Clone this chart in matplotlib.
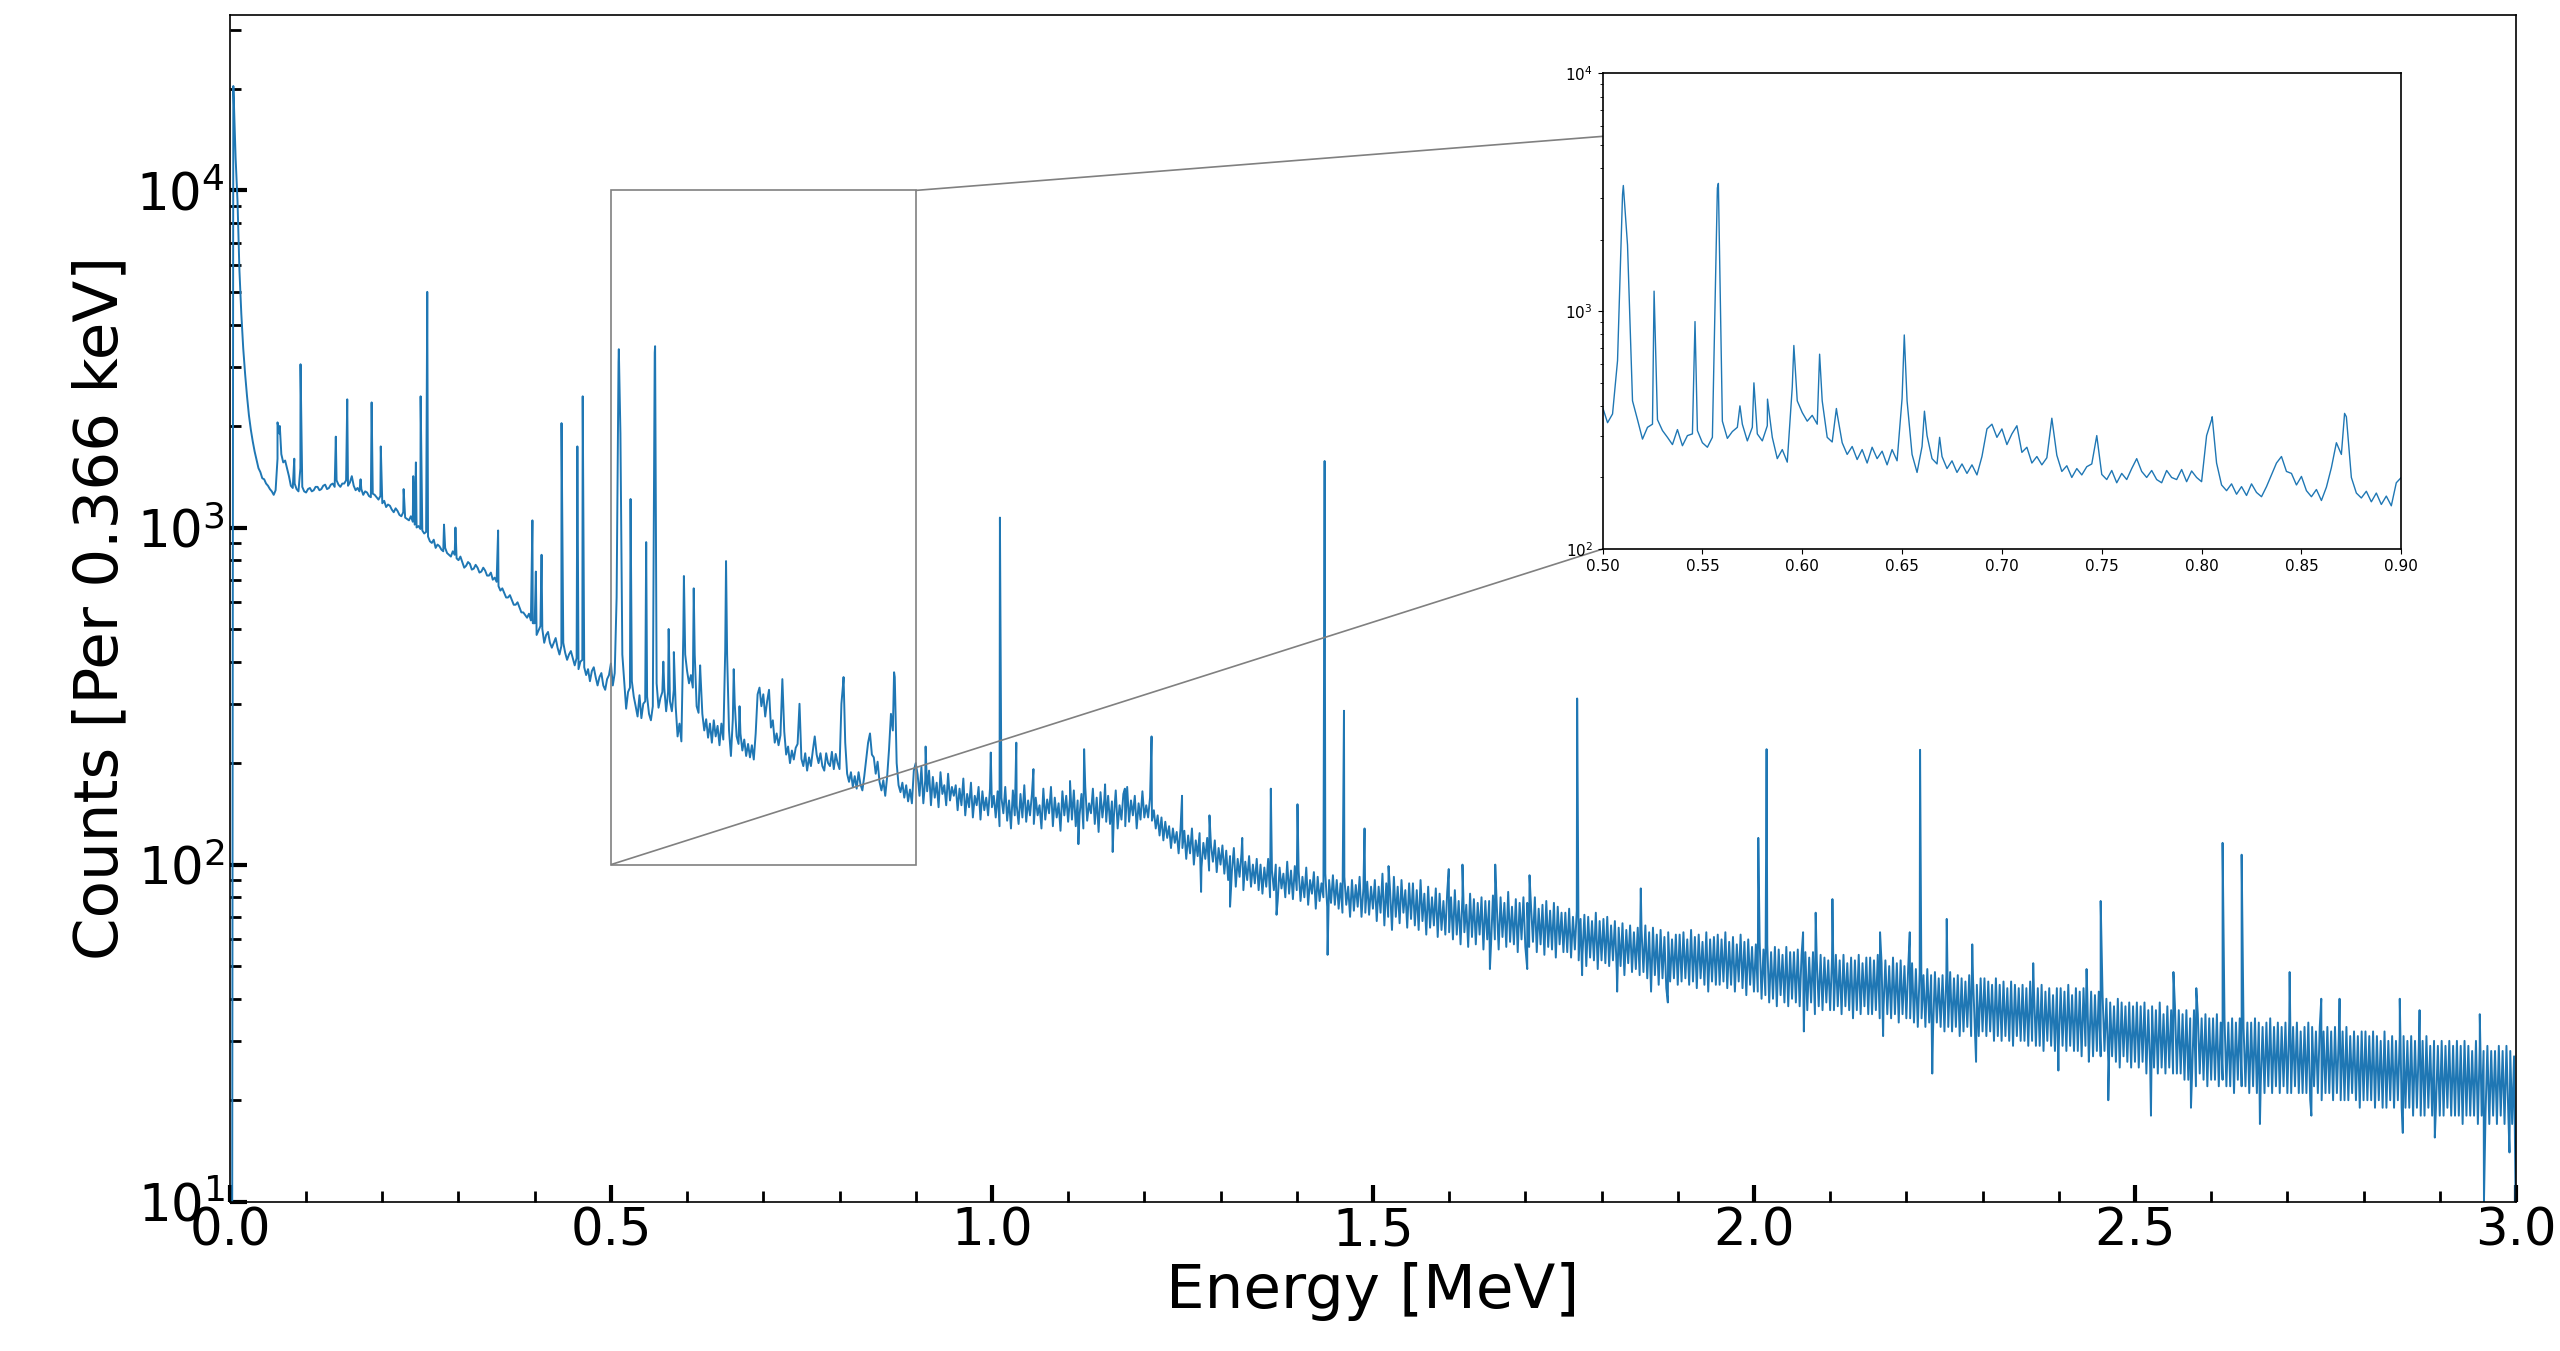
import numpy as np
import matplotlib
matplotlib.use("Agg")
import matplotlib.pyplot as plt
from matplotlib.ticker import MultipleLocator, FixedLocator, FixedFormatter
from matplotlib.transforms import Bbox, TransformedBbox
from mpl_toolkits.axes_grid1.inset_locator import BboxPatch, BboxConnector

# ---------------- data ----------------
# counts on a 0.0025 MeV grid, 0.0050 .. 0.4975 MeV
low_counts = [
    19000, 12500, 9300, 5800, 4300, 3400, 2850, 2450, 2150, 1950,
    1800, 1680, 1590, 1500, 1460, 1400, 1390, 1350,
    1330, 1300, 1280, 1250, 1290, 1600, 1900, 1650, 1560, 1580,
    1500, 1420, 1330, 1310, 1350, 1300, 1280, 1500, 1320, 1280,
    1270, 1300, 1310, 1280, 1290, 1320, 1320, 1290, 1300, 1330,
    1340, 1300, 1310, 1340, 1350, 1320, 1380, 1340, 1320, 1350,
    1350, 1380, 1330, 1360, 1420, 1330, 1290, 1310, 1280, 1300,
    1250, 1280, 1270, 1240, 1230, 1260, 1250, 1230, 1210, 1240,
    1180, 1200, 1150, 1170, 1160, 1130, 1110, 1140, 1120, 1090,
    1080, 1110, 1070, 1060, 1050, 1080, 1040, 1020, 1000, 1010,
    990, 980, 960, 970, 940, 910, 900, 920, 870, 890,
    880, 860, 850, 870, 840, 830, 820, 850, 830, 810,
    800, 820, 790, 760, 770, 790, 780, 750, 755, 775,
    760, 735, 740, 760, 745, 720, 720, 735, 700, 710,
    690, 670, 650, 660, 640, 620, 620, 630, 610, 590,
    590, 600, 580, 560, 560, 550, 540, 555, 530, 520,
    520, 480, 495, 510, 500, 455, 480, 490, 455, 440,
    455, 470, 440, 420, 445, 455, 425, 405, 420, 430,
    410, 390, 410, 380, 400, 405, 385, 365, 380, 350,
    375, 385, 360, 340, 360, 370, 340, 330, 355, 365,
]

# counts on a 0.0025 MeV grid, 0.5000 .. 0.9000 MeV
mid_counts = [
    395, 340, 370, 620, 3100, 1900, 420, 350, 290, 325,
    335, 350, 315, 295, 275, 318, 272, 300, 305, 315,
    280, 268, 295, 3300, 345, 292, 312, 325, 335, 285,
    325, 305, 285, 330, 295, 240, 262, 232, 480, 420,
    375, 345, 365, 335, 420, 295, 282, 370, 280, 250,
    270, 238, 262, 230, 268, 240, 258, 226, 262, 235,
    430, 420, 250, 210, 270, 300, 240, 228, 245, 218,
    235, 210, 228, 208, 226, 205, 245, 320, 335, 295,
    320, 275, 305, 330, 255, 268, 230, 245, 226, 242,
    355, 248, 212, 224, 200, 218, 205, 222, 228, 300,
    206, 196, 214, 190, 208, 196, 218, 240, 212, 200,
    214, 196, 190, 214, 200, 196, 216, 192, 213, 200,
    192, 300, 350, 230, 186, 176, 188, 170, 183, 168,
    188, 173, 166, 183, 205, 230, 245, 212, 208, 186,
    202, 176, 166, 178, 160, 182, 220, 280, 250, 360,
    200, 172, 164, 175, 158, 172, 154, 167, 152, 190,
    200,
]

# counts on a 0.0025 MeV grid, 0.9025 .. 3.0000 MeV (band top / bottom)
high_counts = [
    185, 160, 195, 152, 178, 165, 190, 150, 182, 158, 175, 148, 188, 162, 172, 150, 186, 155, 170, 160,
    172, 145, 168, 150, 180, 140, 162, 148, 175, 138, 160, 150, 170, 136, 165, 145, 158, 140, 168, 148,
    160, 138, 165, 130, 158, 142, 170, 135, 155, 128, 166, 140, 150, 132, 162, 138, 172, 134, 155, 140,
    162, 132, 158, 140, 150, 128, 168, 136, 156, 142, 170, 130, 158, 138, 152, 126, 165, 140, 160, 134,
    158, 136, 166, 130, 155, 140, 162, 128, 170, 135, 152, 142, 168, 132, 158, 125, 164, 138, 156, 134,
    160, 132, 154, 138, 166, 128, 150, 136, 162, 130, 170, 134, 155, 140, 160, 128, 152, 136, 165, 138,
    150, 138, 158, 135, 145, 128, 140, 122, 138, 118, 134, 120, 130, 112, 128, 116, 125, 108, 128, 112,
    126, 104, 122, 108, 128, 100, 118, 106, 124, 98, 116, 104, 120, 96, 114, 102, 118, 95, 112, 100,
    114, 94, 110, 90, 106, 96, 112, 86, 104, 92, 108, 84, 102, 90, 106, 86, 100, 88, 104, 84,
    100, 82, 98, 86, 104, 80, 96, 84, 100, 78, 98, 85, 94, 80, 102, 82, 96, 79, 99, 84,
    96, 78, 92, 80, 98, 76, 90, 82, 95, 74, 92, 78, 88, 80, 94, 75, 90, 77, 93, 76,
    90, 74, 88, 72, 92, 76, 86, 70, 90, 73, 87, 75, 92, 70, 85, 72, 89, 71, 86, 74,
    90, 68, 86, 72, 94, 66, 88, 70, 84, 64, 92, 70, 86, 67, 90, 72, 84, 65, 88, 69,
    88, 66, 84, 64, 90, 68, 82, 62, 86, 65, 80, 66, 85, 61, 82, 64, 78, 62, 83, 63,
    80, 60, 84, 62, 78, 58, 81, 63, 76, 57, 82, 61, 79, 58, 77, 62, 80, 56, 78, 60,
    78, 58, 81, 60, 76, 56, 80, 61, 77, 57, 83, 59, 75, 58, 79, 55, 77, 60, 80, 57,
    77, 57, 75, 59, 80, 55, 74, 58, 76, 54, 78, 57, 73, 56, 77, 53, 75, 58, 72, 55,
    72, 55, 74, 53, 70, 56, 73, 52, 69, 54, 71, 50, 70, 53, 68, 52, 72, 49, 68, 52,
    69, 51, 70, 50, 66, 52, 68, 48, 65, 50, 67, 47, 64, 51, 66, 48, 63, 49, 65, 47,
    64, 48, 66, 46, 63, 42, 65, 47, 62, 44, 64, 46, 61, 43, 63, 45, 60, 46, 62, 44,
    62, 45, 63, 46, 60, 44, 64, 45, 61, 43, 62, 46, 59, 44, 63, 42, 60, 45, 61, 44,
    62, 44, 60, 45, 63, 43, 59, 44, 61, 42, 58, 45, 62, 43, 59, 41, 60, 44, 57, 42,
    58, 42, 59, 40, 56, 41, 58, 39, 55, 40, 57, 38, 56, 41, 54, 39, 57, 38, 55, 40,
    55, 39, 56, 38, 54, 40, 55, 37, 53, 39, 55, 36, 52, 38, 54, 37, 53, 39, 52, 37,
    53, 37, 54, 38, 52, 36, 54, 38, 51, 37, 53, 35, 52, 37, 54, 36, 51, 38, 53, 36,
    53, 36, 52, 37, 54, 35, 51, 37, 52, 36, 50, 35, 53, 36, 51, 34, 52, 36, 50, 35,
    50, 35, 51, 34, 49, 33, 48, 35, 47, 33, 49, 34, 47, 32, 48, 34, 46, 33, 47, 32,
    47, 33, 48, 32, 46, 33, 47, 31, 46, 32, 45, 33, 47, 31, 46, 32, 44, 31, 46, 32,
    46, 31, 45, 32, 44, 30, 46, 31, 44, 30, 45, 31, 43, 30, 45, 29, 44, 31, 43, 30,
    44, 30, 43, 29, 45, 30, 42, 29, 43, 29, 44, 28, 42, 30, 43, 29, 41, 28, 43, 29,
    43, 29, 42, 28, 44, 29, 41, 28, 43, 28, 42, 27, 43, 29, 41, 28, 42, 27, 41, 28,
    42, 27, 41, 28, 40, 26, 39, 27, 38, 26, 40, 25, 39, 27, 38, 26, 39, 25, 38, 26,
    39, 25, 38, 26, 39, 24, 37, 25, 38, 25, 37, 24, 39, 25, 36, 24, 38, 25, 37, 24,
    38, 24, 37, 24, 36, 23, 37, 23, 35, 24, 37, 22, 36, 24, 35, 23, 36, 22, 35, 23,
    35, 23, 36, 22, 34, 23, 35, 22, 34, 22, 35, 21, 34, 23, 35, 22, 33, 22, 34, 21,
    34, 22, 35, 21, 34, 22, 33, 21, 34, 22, 35, 21, 33, 22, 34, 21, 33, 22, 34, 21,
    34, 21, 33, 22, 34, 21, 32, 21, 33, 21, 34, 20, 33, 22, 32, 21, 33, 20, 32, 21,
    33, 21, 32, 20, 33, 21, 31, 20, 32, 20, 33, 20, 31, 21, 32, 20, 31, 19, 32, 20,
    32, 20, 31, 20, 32, 19, 31, 20, 30, 19, 32, 19, 30, 20, 31, 19, 30, 20, 31, 19,
    31, 19, 30, 19, 31, 18, 30, 19, 29, 18, 30, 18, 31, 19, 29, 18, 30, 19, 29, 18,
    30, 18, 29, 19, 30, 18, 29, 18, 30, 18, 29, 17, 30, 18, 29, 18, 28, 18, 30, 17,
    29, 18, 28, 18, 29, 17, 28, 18, 28, 17, 29, 18, 28, 17, 29, 18, 28, 17, 27, 8,
]

# peak tops, single-channel spikes / dips and the first channels (MeV, counts)
feature_energy = [
    0.0, 0.003, 0.0045,
    0.0625, 0.0655, 0.0845, 0.0927, 0.139, 0.154, 0.1715, 0.186, 0.198,
    0.228, 0.2406, 0.2441, 0.2503, 0.259, 0.281, 0.296, 0.352, 0.397,
    0.4015, 0.409, 0.4352, 0.456, 0.463,
    0.5104, 0.5258, 0.5463, 0.558, 0.5688, 0.5758, 0.5826, 0.5958, 0.6087,
    0.6171, 0.6511, 0.6612, 0.6688, 0.8053, 0.8716, 0.913,
    0.9985, 1.0105, 1.032, 1.0545, 1.1025, 1.1135, 1.1485, 1.1585, 1.1745,
    1.121, 1.2095, 1.2495, 1.2745, 1.2855, 1.3125, 1.3285, 1.366, 1.3735,
    1.401, 1.4366, 1.4405, 1.462, 1.489,
    1.5205, 1.5995, 1.6175, 1.6535, 1.6605, 1.7025, 1.7055, 1.768, 1.7745,
    1.8205, 1.8515, 1.887,
    2.0057, 2.0166, 2.0645, 2.0655, 2.081, 2.103, 2.1655, 2.1695, 2.2045,
    2.218, 2.234, 2.253, 2.2865, 2.2915, 2.3665, 2.3995, 2.4365, 2.4395,
    2.455, 2.465, 2.521, 2.5505, 2.5735, 2.5805, 2.615, 2.64, 2.664, 2.703,
    2.7315, 2.7445, 2.7685, 2.8475, 2.8515, 2.8735, 2.8935, 2.9525, 2.958,
    2.9915,
]
feature_counts = [
    2, 8, 20400,
    2050, 2000, 1600, 3050, 1860, 2400, 1390, 2350, 1740,
    1300, 1420, 1560, 2450, 5000, 1020, 1000, 980, 1050,
    740, 830, 2040, 1740, 2450,
    3380, 1215, 905, 3450, 400, 500, 427, 718, 660,
    390, 795, 380, 295, 360, 372, 224,
    215, 1070, 230, 192, 177, 115, 173, 109, 168,
    220, 240, 160, 83, 140, 75, 120, 168, 71,
    151, 1575, 54, 286, 128,
    99, 97, 100, 49, 100, 49, 93, 311, 47,
    42, 85, 39,
    120, 220, 63, 32, 72, 79, 63, 31, 63,
    219, 24, 69, 58, 26, 51, 24.5, 49, 26,
    78, 20, 18, 48, 19, 43, 116, 107, 17, 48,
    18, 40, 40, 40, 16, 37, 15.5, 36, 10,
    14,
]

inset_xticks = [0.50, 0.55, 0.60, 0.65, 0.70, 0.75, 0.80, 0.85, 0.90]
inset_xticklabels = ["0.50", "0.55", "0.60", "0.65", "0.70", "0.75", "0.80", "0.85", "0.90"]

# ---------------- assemble spectrum ----------------
e_low = 0.005 + 0.0025 * np.arange(len(low_counts))
e_mid = 0.5 + 0.0025 * np.arange(len(mid_counts))
e_high = 0.9025 + 0.0025 * np.arange(len(high_counts))

energy = np.concatenate([e_low, e_mid, e_high, np.array(feature_energy)])
counts = np.concatenate([low_counts, mid_counts, high_counts, feature_counts]).astype(float)
order = np.argsort(energy, kind="stable")
energy = energy[order]
counts = counts[order]

# ---------------- figure ----------------
fig = plt.figure(figsize=(25.6, 13.51), dpi=100)
ax = fig.add_axes([0.0898, 0.1105, 0.893, 0.8786])
ax.plot(energy, counts, color="#1f77b4", lw=1.4)
ax.set_yscale("log")
ax.set_xlim(0, 3.0)
ax.set_ylim(10, 33200)
ax.xaxis.set_major_locator(MultipleLocator(0.5))
ax.xaxis.set_minor_locator(MultipleLocator(0.1))
ax.tick_params(which="major", direction="in", length=12, width=3,
               labelsize=37, top=False, right=False)
ax.tick_params(which="minor", direction="in", length=7.7, width=2,
               top=False, right=False)
for s in ax.spines.values():
    s.set_linewidth(1.2)
ax.set_xlabel("Energy [MeV]", fontsize=44)
ax.set_ylabel("Counts [Per 0.366 keV]", fontsize=44)

# inset
axins = fig.add_axes([0.626, 0.5936, 0.312, 0.352])
axins.plot(energy, counts, color="#1f77b4", lw=1.0)
axins.set_yscale("log")
axins.set_xlim(inset_xticks[0], inset_xticks[-1])
axins.set_ylim(100, 10000)
axins.xaxis.set_major_locator(FixedLocator(inset_xticks))
axins.xaxis.set_major_formatter(FixedFormatter(inset_xticklabels))
axins.tick_params(which="both", labelsize=11)
for s in axins.spines.values():
    s.set_linewidth(1.2)

# zoom indicator (rectangle + two connectors, drawn in the main axes)
rect = TransformedBbox(Bbox.from_extents(inset_xticks[0], 100, inset_xticks[-1], 10000),
                       ax.transData)
pp = BboxPatch(rect, fill=False, ec="0.5", lw=1.2, zorder=3)
ax.add_patch(pp)
for loc in (1, 3):
    c = BboxConnector(axins.bbox, rect, loc1=loc, fill=False, ec="0.5", lw=1.2, zorder=3)
    c.set_clip_on(False)
    ax.add_patch(c)

fig.savefig("out.png", dpi=100)
